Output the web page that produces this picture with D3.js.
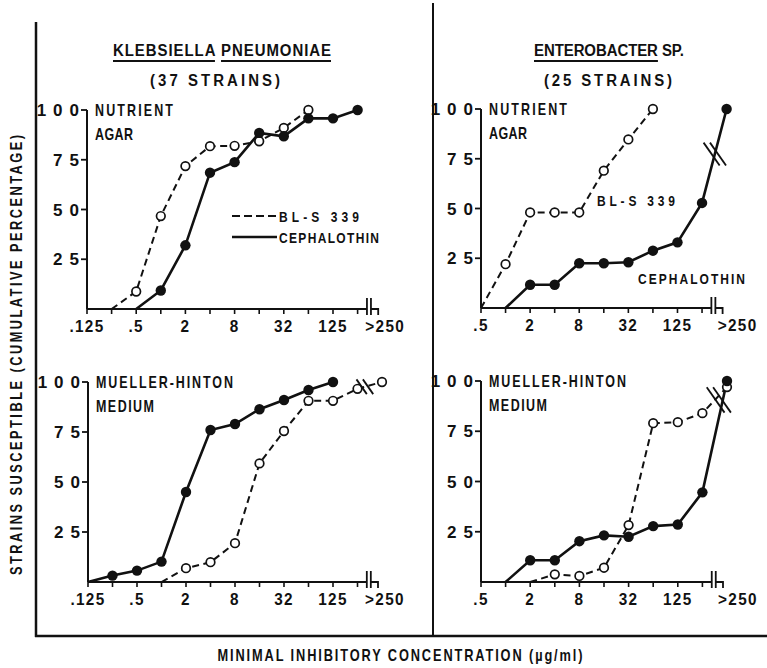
<!DOCTYPE html>
<html><head><meta charset="utf-8">
<script src="https://cdn.jsdelivr.net/npm/d3@7"></script>
<style>
body{margin:0;background:#fff;}
text{font-family:"Liberation Sans",Arial,sans-serif;font-weight:bold;fill:#111;}
</style></head><body><svg id="c" width="767" height="668"></svg>
<script>
// ---------- data ----------
const catsLeft = [".125",".25",".5","1","2","4","8","16","32","64","125","250",">250"];
const catsRight = [".5","1","2","4","8","16","32","64","125","250",">250"];
const labelsLeft = [".125",".5","2","8","32","125",">250"];
const labelsRight = [".5","2","8","32","125",">250"];
const yTicks = [25,50,75,100];
const seriesNames = ["BL-S 339","CEPHALOTHIN"];
// Klebsiella pneumoniae, nutrient agar
const kpAgarBLS  = [null,0,8.8,46.7,71.8,81.8,82,84.3,91,100,null,null,null];
const kpAgarCeph = [null,null,0,9.3,32,68.5,73.8,88.5,86.8,95.8,95.8,100,null];
// Klebsiella pneumoniae, Mueller-Hinton medium
const kpMhCeph = [0,3.2,5.7,10.2,45,76,79,86.4,91,96,100,null,null];
const kpMhBLS  = [null,null,null,0,6.9,9.9,19.4,59.3,75.5,90.6,90.6,96.6,100];
// Enterobacter sp., nutrient agar
const enAgarBLS  = [0,22,48,48,48,69,84.7,100,null,null,null];
const enAgarCeph = [null,0,11.7,11.7,22.5,22.5,23,28.8,33,52.8,100];
// Enterobacter sp., Mueller-Hinton medium
const enMhCeph = [null,0,10.8,10.8,20.3,23.2,22.5,27.8,28.6,44.6,100];
const enMhBLS  = [null,null,0,3.8,3,7.1,28.3,79,79.5,84,97];

// ---------- drawing ----------
const svg = d3.select("#c");
const ink = "#111";

function T(parent, x, y, str, o){
  const sx = o.sx ?? 0.8;
  const t = parent.append("text")
    .attr("transform", `translate(${x},${y})${o.rot?` rotate(${o.rot})`:""} scale(${sx},1)`)
    .attr("text-anchor", o.anchor || "start")
    .style("font-size", o.size+"px")
    .text(str);
  if (o.width) t.attr("textLength", o.width/sx).attr("lengthAdjust","spacing");
  if (o.ls) t.style("letter-spacing", o.ls+"px");
  return t;
}

// frame
svg.append("line").attr("x1",36).attr("y1",22).attr("x2",36).attr("y2",637).attr("stroke",ink).attr("stroke-width",2.5);
svg.append("line").attr("x1",35).attr("y1",636).attr("x2",767).attr("y2",636).attr("stroke",ink).attr("stroke-width",2.5);
svg.append("line").attr("x1",433).attr("y1",3).attr("x2",433).attr("y2",636).attr("stroke",ink).attr("stroke-width",2);

function underlinedTitle(cx, y, words, flags, width){
  const sx = 0.88;
  const t = T(svg, cx, y, words.join(" "), {size:17, sx, width, anchor:"middle"});
  const node = t.node();
  let idx = 0;
  words.forEach((w,i)=>{
    if(flags[i]){
      const s = node.getStartPositionOfChar(idx).x*sx + cx;
      const e = node.getEndPositionOfChar(idx+w.length-1).x*sx + cx;
      svg.append("line").attr("x1",s).attr("x2",e).attr("y1",y+5).attr("y2",y+5)
        .attr("stroke",ink).attr("stroke-width",2.2);
    }
    idx += w.length+1;
  });
}
underlinedTitle(222,56,["KLEBSIELLA","PNEUMONIAE"],[true,true],218);
T(svg,215,86,"(37 STRAINS)",{size:17,sx:0.88,width:130,anchor:"middle"});
underlinedTitle(609,56,["ENTEROBACTER","SP."],[true,false],150);
T(svg,608,86,"(25 STRAINS)",{size:17,sx:0.88,width:128,anchor:"middle"});

T(svg,22,355,"STRAINS SUSCEPTIBLE (CUMULATIVE PERCENTAGE)",{size:16,sx:0.8,width:440,anchor:"middle",rot:-90});
T(svg,400,661,"MINIMAL INHIBITORY CONCENTRATION (\u00b5g/ml)",{size:16,sx:0.8,width:365,anchor:"middle"});

const panels = [
  {cats:catsLeft, labels:labelsLeft, x0:87, step:24.6, y0:309, y100:110, medium:["NUTRIENT","AGAR"], mw:[78,38],
   bls:kpAgarBLS, ceph:kpAgarCeph, gtOff:3, breaks:[]},
  {cats:catsRight, labels:labelsRight, x0:481, step:24.56, y0:308, y100:109, medium:["NUTRIENT","AGAR"], mw:[78,38],
   bls:enAgarBLS, ceph:enAgarCeph, gtOff:11, breaks:[{series:"ceph",t:0.52,len:28,dx:0}]},
  {cats:catsLeft, labels:labelsLeft, x0:88, step:24.5, y0:582, y100:382, medium:["MUELLER-HINTON","MEDIUM"], mw:[137,58],
   bls:kpMhBLS, ceph:kpMhCeph, gtOff:3, breaks:[{series:"bls",t:0.3,len:18,dx:0}]},
  {cats:catsRight, labels:labelsRight, x0:481, step:24.6, y0:582, y100:381, medium:["MUELLER-HINTON","MEDIUM"], mw:[137,58],
   bls:enMhBLS, ceph:enMhCeph, gtOff:11, breaks:[{series:"ceph",t:0.83,len:31,dx:-4}]},
];

panels.forEach((p,pi)=>{
  const n = p.cats.length;
  const x = d3.scalePoint().domain(p.cats).range([p.x0, p.x0 + (n-1)*p.step]);
  const y = d3.scaleLinear().domain([0,100]).range([p.y0, p.y100]);
  const g = svg.append("g");
  const x250 = x("250"), xgt = x(">250");
  const brk = x250 + 0.38*p.step;

  // x axis with break
  g.append("line").attr("x1",p.x0).attr("x2",brk).attr("y1",p.y0).attr("y2",p.y0).attr("stroke",ink).attr("stroke-width",2);
  [brk, brk+4].forEach(bx=>{
    g.append("line").attr("x1",bx).attr("x2",bx).attr("y1",p.y0-11).attr("y2",p.y0+6).attr("stroke",ink).attr("stroke-width",1.8);
  });
  g.append("path").attr("d",`M${brk+4},${p.y0}H${xgt-4}V${p.y0+6}`).attr("fill","none").attr("stroke",ink).attr("stroke-width",1.8);
  p.cats.slice(0,n-1).forEach(c=>{
    g.append("line").attr("x1",x(c)).attr("x2",x(c)).attr("y1",p.y0).attr("y2",p.y0+5).attr("stroke",ink).attr("stroke-width",1.6);
  });
  p.labels.forEach(l=>{
    T(g, l===">250"? xgt+p.gtOff : x(l), p.y0+23, l, {size:17, sx:0.9, ls:1.5, anchor:"middle"});
  });
  // y axis
  g.append("line").attr("x1",p.x0).attr("x2",p.x0).attr("y1",p.y0).attr("y2",p.y100).attr("stroke",ink).attr("stroke-width",2);
  yTicks.forEach(v=>{
    g.append("line").attr("x1",p.x0-6).attr("x2",p.x0).attr("y1",y(v)).attr("y2",y(v)).attr("stroke",ink).attr("stroke-width",1.8);
    T(g, p.x0-8+7, y(v)+6, String(v), {size:17, sx:1, ls:7, anchor:"end"});
  });
  // medium label
  T(g, p.x0+8, p.y100+6, p.medium[0], {size:16, sx:0.78, width:p.mw[0]});
  T(g, p.x0+8, p.y100+30, p.medium[1], {size:16, sx:0.78, width:p.mw[1]});

  const mkPts = arr => arr.map((v,i)=>({c:p.cats[i],v})).filter(d=>d.v!==null);
  const line = d3.line().x(d=>x(d.c)).y(d=>y(d.v));
  const blsPts = mkPts(p.bls), cephPts = mkPts(p.ceph);

  g.append("path").attr("d",line(blsPts)).attr("fill","none").attr("stroke",ink).attr("stroke-width",2).attr("stroke-dasharray","7,4.5");
  g.append("path").attr("d",line(cephPts)).attr("fill","none").attr("stroke",ink).attr("stroke-width",2.6);

  g.selectAll(null).data(blsPts.filter(d=>d.v>0)).enter().append("circle")
    .attr("cx",d=>x(d.c)).attr("cy",d=>y(d.v)).attr("r",4.3).attr("fill","#fff").attr("stroke",ink).attr("stroke-width",1.7);
  g.selectAll(null).data(cephPts.filter(d=>d.v>0)).enter().append("circle")
    .attr("cx",d=>x(d.c)).attr("cy",d=>y(d.v)).attr("r",5.2).attr("fill",ink);

  // line break marks (two parallel slanted strokes)
  p.breaks.forEach(b=>{
    const arr = b.series==="bls"? p.bls : p.ceph;
    const i1 = n-2, i2 = n-1;
    const ax = x(p.cats[i1]), ay = y(arr[i1]), bx = x(p.cats[i2]), by = y(arr[i2]);
    const cx = ax+(bx-ax)*b.t + b.dx, cy = ay+(by-ay)*b.t;
    const ang = 55*Math.PI/180;
    const ux = Math.cos(ang), uy = Math.sin(ang);
    [-3.2,3.2].forEach(o=>{
      const mx = cx+o, my = cy;
      g.append("line").attr("x1",mx-ux*b.len/2).attr("y1",my-uy*b.len/2).attr("x2",mx+ux*b.len/2).attr("y2",my+uy*b.len/2)
        .attr("stroke",ink).attr("stroke-width",1.8);
    });
  });

  // in-plot series labels
  if(pi===0){
    g.append("line").attr("x1",232).attr("x2",277).attr("y1",216).attr("y2",216).attr("stroke",ink).attr("stroke-width",2).attr("stroke-dasharray","8,4");
    g.append("line").attr("x1",232).attr("x2",277).attr("y1",237).attr("y2",237).attr("stroke",ink).attr("stroke-width",2.6);
    T(g,279,222,seriesNames[0],{size:15,sx:0.8,width:80});
    T(g,279,243,seriesNames[1],{size:15,sx:0.8,width:100});
  }
  if(pi===1){
    T(g,597,206,seriesNames[0],{size:15,sx:0.8,width:78});
    T(g,638,284,seriesNames[1],{size:15,sx:0.8,width:107});
  }
});
</script></body></html>
